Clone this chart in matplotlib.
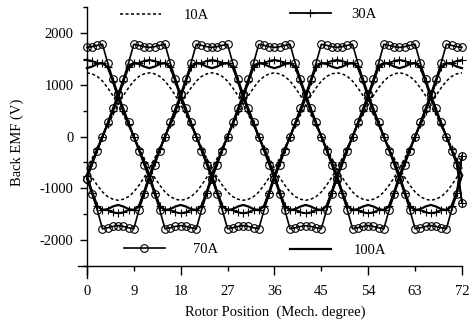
import numpy as np
import matplotlib
matplotlib.use('Agg')
import matplotlib.pyplot as plt
from matplotlib.ticker import FixedLocator, FixedFormatter
from matplotlib.lines import Line2D

plt.rcParams['font.family'] = ['Liberation Serif', 'DejaVu Serif']

# ---- data ----
currents = ['10A', '30A', '70A', '100A']
# phase-A back EMF (V) versus offset (0..9 mech. deg) from its positive peak
arch_10A = [1230, 1210, 1160, 1070, 940, 790, 615, 420, 215, 0]
arch_30A = [1480, 1460, 1420, 1410, 1350, 1080, 760, 500, 250, 0]
arch_70A = [1720, 1735, 1760, 1780, 1420, 1110, 820, 550, 275, 0]
arch_100A = [1320, 1350, 1400, 1420, 1340, 1070, 750, 495, 245, 0]
phase_peaks = [0, 12, 24]          # positive-peak positions of the 3 phases
period = 36                         # mech. deg per electrical period
positions = np.arange(0, 73, 1)     # rotor position samples (mech. deg)
# last sample (72 deg) of phases B and C, which departs from the periodic shape
end_30A = [-370, -1280]
end_70A = [-370, -1280]
xtick_major = [0, 18, 36, 54, 72]
xtick_minor = [9, 27, 45, 63]
yticks = [-2000, -1000, 0, 1000, 2000]
yminor = [-2500, -1500, -500, 500, 1500, 2500]


def one_period(arch):
    a = np.asarray(arch, dtype=float)
    out = np.empty(period)
    for k in range(period):
        if k <= 9:
            out[k] = a[k]
        elif k < 27:
            out[k] = -a[abs(k - 18)]
        else:
            out[k] = a[period - k]
    return out


arches = {'10A': arch_10A, '30A': arch_30A, '70A': arch_70A, '100A': arch_100A}
ends = {'30A': end_30A, '70A': end_70A}
styles = {
    '10A': dict(color='black', lw=1.1, ls=(0, (2.0, 1.6))),
    '30A': dict(color='black', lw=1.3, ls='-', marker='+', ms=6, mew=0.8),
    '70A': dict(color='black', lw=1.2, ls='-', marker='o', ms=5.5, mfc='none', mew=0.8),
    '100A': dict(color='black', lw=1.6, ls='-'),
}

fig = plt.figure(figsize=(4.7, 3.28), dpi=100)
W, H = 470, 328
ax = fig.add_axes([78 / W, (H - 278) / H, (462 - 78) / W, (278 - 7) / H])

for c in currents:
    per = one_period(arches[c])
    for i, p in enumerate(phase_peaks):
        idx = ((positions - p) % period).astype(int)
        vals = per[idx].copy()
        if c in ends and i > 0:
            vals[-1] = ends[c][i - 1]
        ax.plot(positions, vals, clip_on=False, **styles[c])

ax.set_xlim(-1.7, 72)
ax.set_ylim(-2730, 2500)
for s in ['top', 'right']:
    ax.spines[s].set_visible(False)
ax.spines['left'].set_position(('data', 0))
ax.spines['bottom'].set_position(('data', -2500))
for s in ['left', 'bottom']:
    ax.spines[s].set_linewidth(1.0)

ax.xaxis.set_major_locator(FixedLocator(xtick_major))
ax.xaxis.set_minor_locator(FixedLocator(xtick_minor))
ax.xaxis.set_major_formatter(FixedFormatter([str(v) for v in xtick_major]))
ax.xaxis.set_minor_formatter(FixedFormatter([str(v) for v in xtick_minor]))
ax.yaxis.set_major_locator(FixedLocator(yticks))
ax.yaxis.set_minor_locator(FixedLocator(yminor))
ax.yaxis.set_major_formatter(FixedFormatter([str(v) for v in yticks]))

ax.tick_params(axis='x', which='major', direction='out', length=6.5, width=1.0, pad=7.0, labelsize=10.5)
ax.tick_params(axis='x', which='minor', direction='out', length=3.5, width=1.0, pad=10.0, labelsize=10.5)
ax.tick_params(axis='y', which='major', direction='out', length=5, width=1.0, pad=4.5, labelsize=10.5)
ax.tick_params(axis='y', which='minor', direction='out', length=3, width=1.0)

fig.text(17 / W, 1 - 142 / H, 'Back EMF (V)', rotation=90, ha='center', va='center', fontsize=10.5)
fig.text(275 / W, 1 - 312 / H, 'Rotor Position  (Mech. degree)', ha='center', va='center', fontsize=10.5)

leg_pos = {'10A': (120, 15, 1.6), '30A': (290, 14, 1.4), '70A': (124, 249, 1.9), '100A': (290, 250, 1.6)}
for c in currents:
    x, y, tp = leg_pos[c]
    fig.legend(handles=[Line2D([], [], **styles[c])], labels=[c], loc='center left',
               bbox_to_anchor=(x / W, 1 - y / H), bbox_transform=fig.transFigure,
               frameon=False, borderpad=0, borderaxespad=0, handlelength=2.8,
               handletextpad=tp, fontsize=10.5)

fig.savefig('out.png', dpi=100)
